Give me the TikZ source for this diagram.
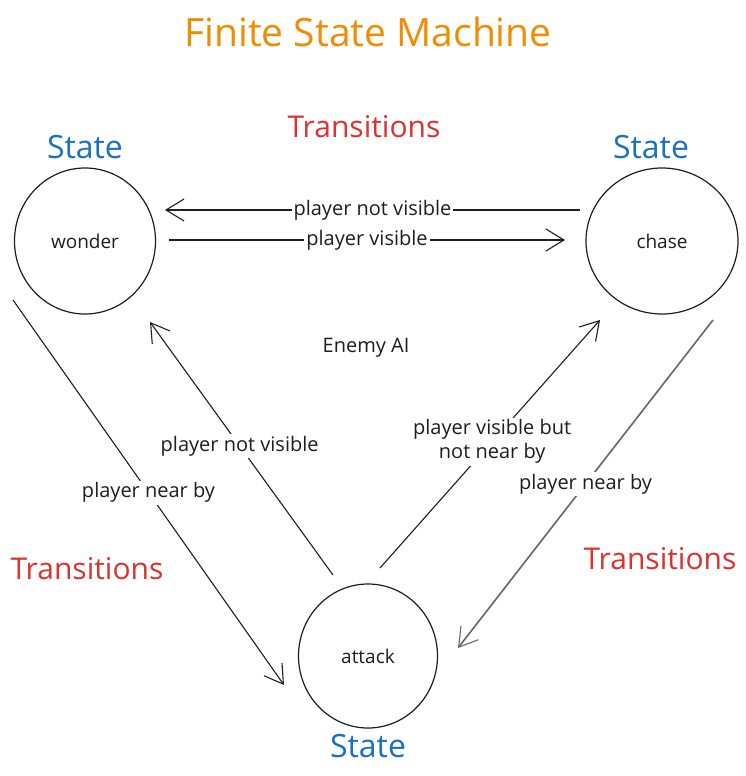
\documentclass[tikz,border=0pt]{standalone}
\usepackage{fontspec}
\setmainfont{Open Sans}
\usetikzlibrary{shapes.geometric,arrows.meta}
\definecolor{ink}{HTML}{1E1E1E}
\definecolor{titleorange}{HTML}{F08C00}
\definecolor{transred}{HTML}{E03131}
\definecolor{stateblue}{HTML}{1971C2}
\tikzset{
  statenode/.style={draw=ink, line width=1.2pt, ellipse, inner sep=0pt, font=\fontsize{19}{22}\selectfont, text=ink},
  conn/.style={draw=ink, line width=1.1pt, -{Straight Barb[length=18pt,width=22pt,line width=1.1pt]}},
  lbl/.style={fill=white, inner sep=2pt, font=\fontsize{20}{24}\selectfont, text=ink, align=center},
  statelbl/.style={text=stateblue, font=\fontsize{32}{36}\selectfont},
  translbl/.style={text=transred, font=\fontsize{30}{34}\selectfont},
}
\begin{document}
\begin{tikzpicture}[x=1pt,y=-1pt]
\useasboundingbox[fill=white] (0,0) rectangle (746,776);
\node[text=titleorange, font=\fontsize{39}{44}\selectfont] (title) at (368,32) {Finite State Machine};
\node[translbl] (ttop) at (364,127) {Transitions};
\node[translbl] (tleft) at (87,569) {Transitions};
\node[translbl] (tright) at (660,559) {Transitions};
\node[statelbl] (sleft) at (85,147) {State};
\node[statelbl] (sright) at (651,147) {State};
\node[statelbl] (sbottom) at (368,746) {State};
\node[font=\fontsize{20}{22}\selectfont, text=ink] (enemy) at (366,348) {Enemy AI};

\node[statenode, minimum width=141pt, minimum height=146pt] (wonder) at (85,241) {wonder};
\node[statenode, minimum width=152pt, minimum height=146pt] (chase) at (662,241) {chase};
\node[statenode, minimum width=139pt, minimum height=144pt] (attack) at (368,656) {attack};

\draw[conn] ([shift={(-82,-31)}]chase.center) -- node[lbl, pos=0.5] {player not visible} ([shift={(80,-31)}]wonder.center);
\draw[conn] ([shift={(84,-1)}]wonder.center) -- node[lbl, pos=0.5] {player visible} ([shift={(-97,-1)}]chase.center);
\draw[conn] ([shift={(-72,59)}]wonder.center) -- node[lbl, pos=0.5] {player near by} ([shift={(-84,29)}]attack.center);
\draw[conn] ([shift={(-35,-81)}]attack.center) -- node[lbl, pos=0.51] {player not visible} ([shift={(65,81)}]wonder.center);
\draw[conn] ([shift={(12,-88)}]attack.center) -- node[lbl, pos=0.51] {player visible but\\not near by} ([shift={(-62,79)}]chase.center);
\draw[conn, draw=gray!80!black, line width=1.6pt] ([shift={(51,79)}]chase.center) -- node[lbl, pos=0.5] {player near by} ([shift={(90,-8)}]attack.center);
\end{tikzpicture}
\end{document}
